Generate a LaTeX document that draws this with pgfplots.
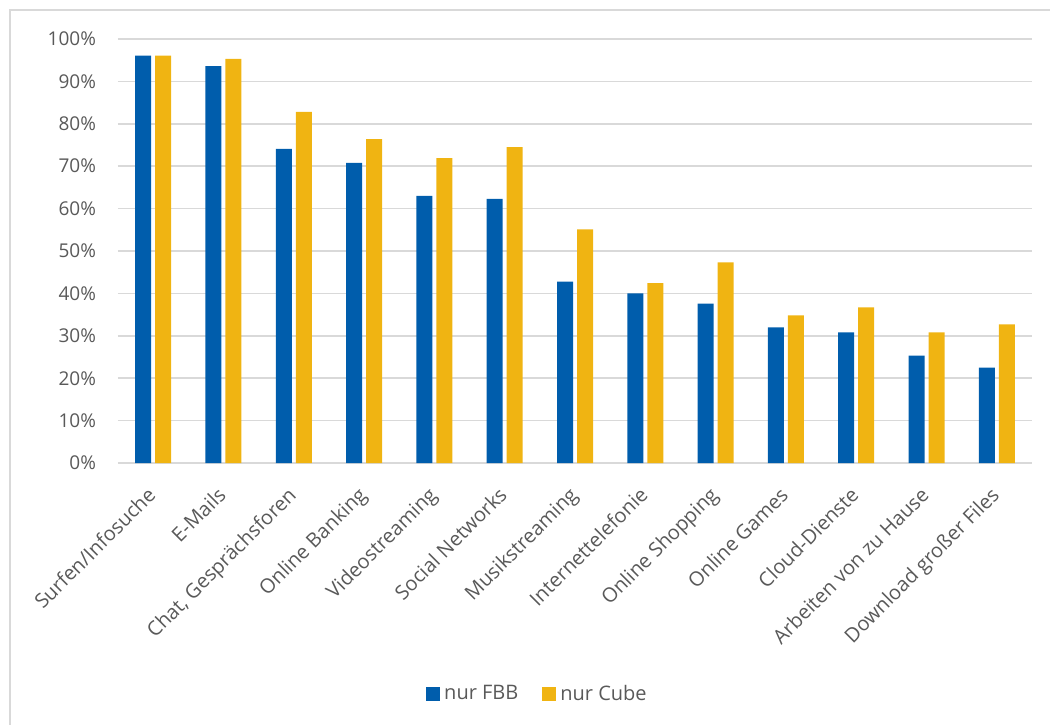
\documentclass[border=0pt]{standalone}
\usepackage{pgfplots}
\pgfplotsset{compat=1.18}
\usepackage{fontspec}
\setmainfont{Open Sans}
\definecolor{fbb}{HTML}{005DAC}
\definecolor{cube}{HTML}{F0B412}
\definecolor{gridgray}{HTML}{D9D9D9}
\definecolor{textgray}{HTML}{595959}

\begin{document}
\begin{tikzpicture}
\useasboundingbox (-59pt,-130.5pt) rectangle (466pt,231.5pt);
\draw[gridgray, line width=0.8pt] (-54pt,-131pt) -- (-54pt,226.5pt) -- (467pt,226.5pt);
\begin{axis}[
  at={(0pt,0pt)}, anchor=south west,
  scale only axis, width=457pt, height=212pt,
  ybar=2pt, bar width=8pt,
  xmin=-0.5, xmax=12.5, ymin=0, ymax=100,
  xtick={0,...,12},
  xticklabels={Surfen/Infosuche,E-Mails,{Chat, Gesprächsforen},Online Banking,Videostreaming,Social Networks,Musikstreaming,Internettelefonie,Online Shopping,Online Games,Cloud-Dienste,Arbeiten von zu Hause,Download großer Files},
  ytick={0,10,...,100},
  yticklabel={\pgfmathprintnumber{\tick}\%},
  /pgf/number format/assume math mode=true,
  major tick length=0pt,
  axis line style={draw=none},
  ymajorgrids, grid style={gridgray, line width=0.8pt},
  tick label style={text=textgray},
  yticklabel style={font=\fontsize{9.5}{11}\selectfont, xshift=-7.5pt},
  xticklabel style={font=\fontsize{10}{12}\selectfont, xshift=-3.6pt, yshift=-9.6pt, rotate=45, anchor=north east, inner sep=1pt},
  legend style={at={(0.46,-0.545)}, anchor=center, draw=none, fill=none,
    legend columns=2, font=\fontsize{10}{12}\selectfont, text=textgray,
    /tikz/every even column/.append style={column sep=10pt}},
  legend image code/.code={\fill[#1] (0pt,-3.5pt) rectangle (7pt,3.5pt);},
]
\addplot[fill=fbb, draw=none] coordinates {
 (0,96.1) (1,93.6) (2,74.1) (3,70.8) (4,63.0) (5,62.3) (6,42.8)
 (7,40.0) (8,37.6) (9,32.0) (10,30.8) (11,25.3) (12,22.5)};
\addplot[fill=cube, draw=none] coordinates {
 (0,96.1) (1,95.3) (2,82.8) (3,76.4) (4,71.9) (5,74.5) (6,55.1)
 (7,42.4) (8,47.3) (9,34.8) (10,36.7) (11,30.8) (12,32.7)};
\legend{nur FBB,nur Cube}
\end{axis}
\end{tikzpicture}
\end{document}
